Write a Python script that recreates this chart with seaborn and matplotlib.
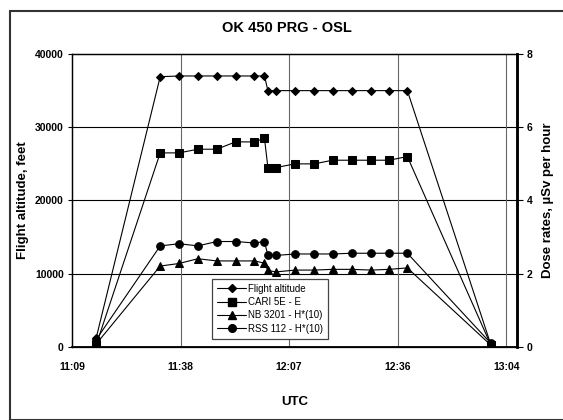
"""Flight OK 450 PRG - OSL: altitude and dose rates vs UTC."""

import matplotlib
matplotlib.use("Agg")
import matplotlib.pyplot as plt
from matplotlib.patches import Rectangle
from matplotlib.lines import Line2D
import pandas as pd
import seaborn as sns


# data
utc_times = ["11:16:00", "11:33:00", "11:38:00", "11:43:00", "11:48:00", "11:53:00",
             "11:58:00", "12:00:40", "12:01:35", "12:03:45", "12:08:45", "12:13:50",
             "12:18:45", "12:23:50", "12:29:00", "12:33:45", "12:38:35", "13:00:45"]
flight_altitude = [1200, 36900, 37000, 37000, 37000, 37000, 37000, 37000, 35000, 35000,
                   35000, 35000, 35000, 35000, 35000, 35000, 35000, 300]
cari_5e = [0.05, 5.3, 5.3, 5.4, 5.4, 5.6, 5.6, 5.7, 4.9, 4.9,
           5.0, 5.0, 5.1, 5.1, 5.1, 5.1, 5.2, 0.05]
nb_3201 = [0.08, 2.21, 2.28, 2.41, 2.35, 2.35, 2.35, 2.29, 2.09, 2.05,
           2.10, 2.10, 2.12, 2.12, 2.10, 2.12, 2.16, 0.05]
rss_112 = [0.20, 2.76, 2.82, 2.76, 2.88, 2.88, 2.84, 2.88, 2.50, 2.50,
           2.54, 2.54, 2.54, 2.56, 2.56, 2.56, 2.56, 0.10]

x_tick_labels = ["11:09", "11:38", "12:07", "12:36", "13:04"]
x_ticks = [0.465, 0.485, 0.505, 0.525, 0.545]  # fraction of a day, as in Excel
alt_ticks = [0, 10000, 20000, 30000, 40000]
dose_ticks = [0, 2, 4, 6, 8]

days = pd.to_timedelta(utc_times) / pd.Timedelta(days=1)
df = pd.DataFrame({"t": days, "alt": flight_altitude, "cari": cari_5e,
                   "nb": nb_3201, "rss": rss_112})

sns.set_theme(style="white")
plt.rcParams["font.family"] = ["Liberation Sans", "DejaVu Sans"]
plt.rcParams["text.color"] = "black"
plt.rcParams["axes.labelcolor"] = "black"
plt.rcParams["xtick.color"] = "black"
plt.rcParams["ytick.color"] = "black"

fig = plt.figure(figsize=(5.63, 4.2), dpi=100)
ax = fig.add_axes([72 / 563, 73 / 420, 445 / 563, 293 / 420])
ax2 = ax.twinx()

line_kw = dict(color="black", linewidth=0.8, markeredgecolor="black", markerfacecolor="black")
sns.lineplot(data=df, x="t", y="alt", ax=ax, marker="D", markersize=4.5, **line_kw)
sns.lineplot(data=df, x="t", y="cari", ax=ax2, marker="s", markersize=6, **line_kw)
sns.lineplot(data=df, x="t", y="nb", ax=ax2, marker="^", markersize=6, **line_kw)
sns.lineplot(data=df, x="t", y="rss", ax=ax2, marker="o", markersize=5.5, **line_kw)

ax.set_xlim(0.465, 0.547)
ax.set_ylim(0, 40000)
ax2.set_ylim(0, 8)
ax.set_xticks(x_ticks)
ax.set_xticklabels(x_tick_labels)
ax.set_yticks(alt_ticks)
ax2.set_yticks(dose_ticks)

for v in alt_ticks[1:-1]:
    ax.axhline(v, color="black", linewidth=0.8, zorder=0)
for v in x_ticks[1:]:
    ax.axvline(v, color="#666666", linewidth=0.8, zorder=0)

for lab in ax.get_xticklabels() + ax.get_yticklabels() + ax2.get_yticklabels():
    lab.set_fontsize(7.5)
    lab.set_fontweight("bold")
    lab.set_color("black")
ax.tick_params(axis="x", direction="out", length=4, width=0.8, pad=7)
ax.tick_params(axis="y", direction="out", length=3, width=0.8, pad=3, left=True)
ax2.tick_params(axis="y", direction="out", length=4, width=0.8, pad=3, right=True)

for a in (ax, ax2):
    for side in ("left", "top", "bottom"):
        a.spines[side].set_color("black")
        a.spines[side].set_linewidth(0.9)
    a.spines["right"].set_color("black")
    a.spines["right"].set_linewidth(1.8)
ax.spines["bottom"].set_linewidth(1.3)

ax.set_xlabel("UTC", fontsize=9.5, fontweight="bold", labelpad=17)
ax.set_ylabel("Flight altitude, feet", fontsize=9.5, fontweight="bold", labelpad=4)
ax2.set_ylabel("Dose rates, µSv per hour", fontsize=9.5, fontweight="bold", labelpad=7)

fig.text(287 / 563, 1 - 28 / 420, "OK 450 PRG - OSL", ha="center", va="center",
         fontsize=10.5, fontweight="bold", color="black")

handles = [
    Line2D([], [], marker="D", markersize=4.5, **line_kw),
    Line2D([], [], marker="s", markersize=6, **line_kw),
    Line2D([], [], marker="^", markersize=6, **line_kw),
    Line2D([], [], marker="o", markersize=5.5, **line_kw),
]
labels = ["Flight altitude", "CARI 5E - E", "NB 3201 - H*(10)", "RSS 112 - H*(10)"]
leg = ax2.legend(handles, labels, loc="center", bbox_to_anchor=(0.271, 0.02, 0.349, 0.222),
                 fontsize=7, frameon=True, fancybox=False, framealpha=1, edgecolor="#444444",
                 handlelength=3.0, handletextpad=0.2, labelspacing=0.35, borderpad=0.5)
leg.get_frame().set_linewidth(0.9)
for txt in leg.get_texts():
    txt.set_color("black")

fig.patches.append(Rectangle((10 / 563, 0.5 / 420), 0.99, 408.5 / 420, transform=fig.transFigure,
                             fill=False, edgecolor="#333333", linewidth=1.5))

fig.savefig("out.png", dpi=100)
